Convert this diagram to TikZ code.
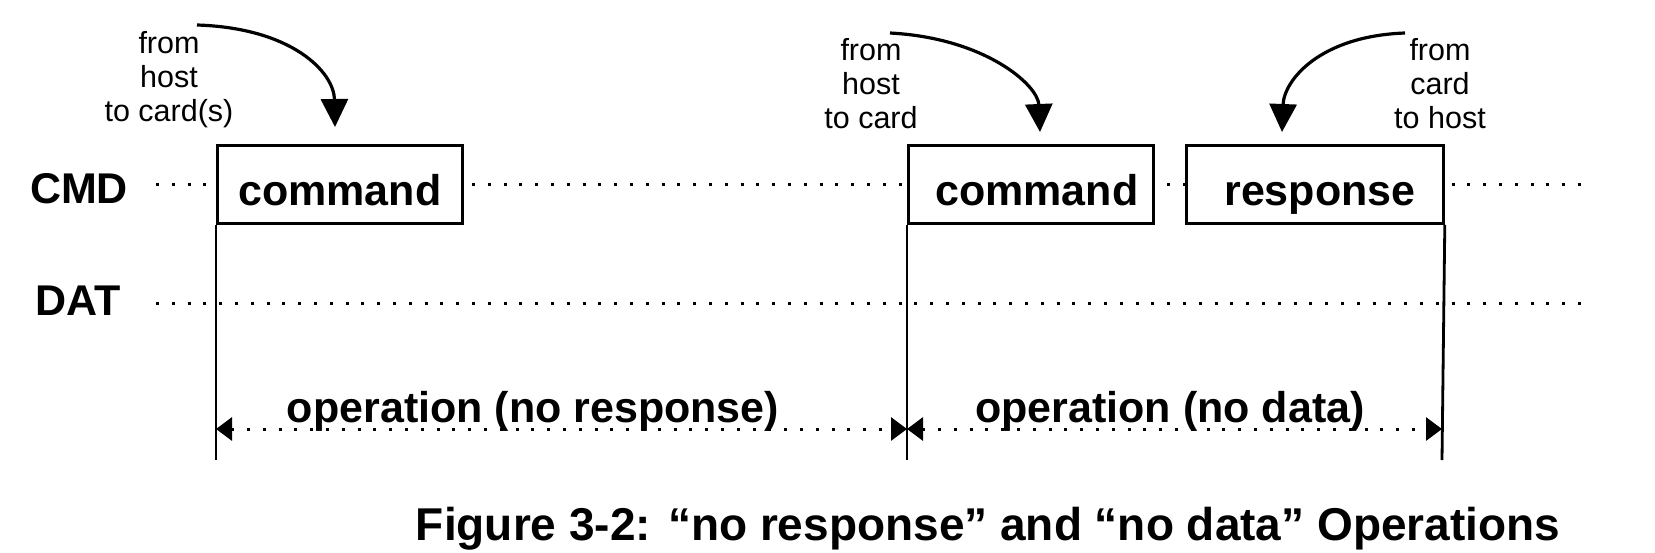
\documentclass[tikz,border=0pt]{standalone}
\usepackage{fontspec}
\setmainfont{Liberation Sans}
\usetikzlibrary{arrows.meta}
\begin{document}
\begin{tikzpicture}[x=1pt,y=-1pt,
  box/.style={draw,fill=white,line width=2.8pt,minimum width=245pt,minimum height=78pt,
    inner sep=0pt,anchor=north west,text height=42pt,text depth=0pt,
    font=\fontsize{43}{50}\selectfont\bfseries},
  vline/.style={line width=2.8pt},
  dotline/.style={line width=3pt,dash pattern=on 3pt off 12.8pt},
  oparrow/.style={dotline,{Triangle[length=16pt,width=23pt]}-{Triangle[length=16pt,width=23pt]}},
  curved/.style={line width=3.2pt,-{Triangle[length=28pt,width=27pt]}},
  big/.style={font=\fontsize{43}{50}\selectfont\bfseries},
  small/.style={font=\fontsize{30.5}{34}\selectfont,align=center,inner sep=0pt},
  caption/.style={font=\fontsize{46}{54}\selectfont\bfseries,inner sep=0pt}]
\useasboundingbox (0,0) rectangle (1655,552);

% signal lines
\coordinate (cmdL) at (156,184);
\coordinate (cmdR) at (1583,184);
\coordinate (datL) at (156,303);
\coordinate (datR) at (1583,303);
\draw[dotline] (cmdL) -- (cmdR);
\draw[dotline] (datL) -- (datR);

\node[big,anchor=base] (cmd) at (79,203) {CMD};
\node[big,anchor=base] (dat) at (78,315) {DAT};

% boxes
\node[box] (c1) at (216,144) {command};
\node[box,minimum width=245pt] (c2) at (907,144) {\hspace*{12pt}command};
\node[box,minimum width=257pt] (r1) at (1185,144) {\hspace*{10pt}response};

% vertical lines
\coordinate (v1) at (216,460);
\coordinate (v2) at (907,460);
\coordinate (v3) at (1442,460);
\draw[vline] (c1.south west) -- (v1);
\draw[vline] (c2.south west) -- (v2);
\draw[vline] (r1.south east) -- (v3);

% operation arrows
\coordinate (a1) at (216,429);
\coordinate (a2) at (907,429);
\coordinate (a3) at (1442,429);
\draw[oparrow] (a1) -- (a2);
\draw[oparrow] (a2) -- (a3);
\node[big,anchor=base] (op1) at (533,422) {operation (no response)};
\node[big,anchor=base] (op2) at (1170,422) {operation (no data)};

% annotations
\node[small,anchor=base] (t1) at (169,121) {from\\host\\to card(s)};
\node[small,anchor=base] (t2) at (871,128) {from\\host\\to card};
\node[small,anchor=base] (t3) at (1440,128) {from\\card\\to host};

\coordinate (s1) at (197,25);
\coordinate (e1) at (335,127);
\coordinate (s2) at (890,33);
\coordinate (e2) at (1040,132);
\coordinate (s3) at (1405,33);
\coordinate (e3) at (1282,132);
\draw[curved] (s1) .. controls (292,28) and (334,72) .. (e1);
\draw[curved] (s2) .. controls (985,38) and (1038,85) .. (e2);
\draw[curved] (s3) .. controls (1320,36) and (1284,80) .. (e3);

% caption
\node[caption,anchor=base] (cap) at (988,540) {Figure 3-2: “no response” and “no data” Operations};
\end{tikzpicture}
\end{document}
